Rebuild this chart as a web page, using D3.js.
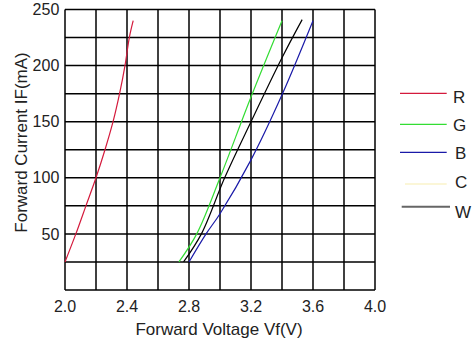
<!DOCTYPE html>
<html><head><meta charset="utf-8">
<script src="https://cdn.jsdelivr.net/npm/d3@7"></script>
<style>body{margin:0;background:#fff}svg{display:block}text{font-family:"Liberation Sans",Arial,sans-serif}</style>
</head><body><svg id="c" width="475" height="344"></svg>
<script>
const xTicks = [2.0, 2.4, 2.8, 3.2, 3.6, 4.0];
const yTicks = [50, 100, 150, 200, 250];
const seriesNames = ["R", "G", "B", "C", "W"];
const seriesColors = ["#d41a3c", "#33dd33", "#1a1aa8", "#f5eaa0", "#000000"];
const legendColors = ["#d41a3c", "#33dd33", "#1a1aa8", "#f8eeb0", "#666666"];
const redV = [2.0, 2.07, 2.135, 2.2, 2.258, 2.31, 2.352, 2.387, 2.415, 2.44];
const redI = [25, 50, 75, 100, 125, 150, 175, 200, 225, 240];
const greenV = [2.735, 2.85, 3.0, 3.2, 3.40];
const greenI = [25, 50, 100, 172, 240];
const blueV = [2.80, 2.91, 3.0, 3.2, 3.4, 3.6];
const blueI = [25, 50, 68, 116, 174, 240];
const whiteV = [2.765, 2.88, 3.03, 3.2, 3.4, 3.53];
const whiteI = [25, 50, 100, 150, 207, 241];

const svg = d3.select("#c");
const x = d3.scaleLinear().domain([2.0, 4.0]).range([65, 375]);
const y = d3.scaleLinear().domain([0, 250]).range([290, 9.5]);

const grid = svg.append("g");
grid.selectAll(".vx").data(d3.range(0, 11).map(i => 2.0 + i * 0.2)).enter().append("line")
  .attr("x1", d => x(d)).attr("x2", d => x(d)).attr("y1", y(0)).attr("y2", y(250))
  .attr("stroke", "#000").attr("stroke-width", 1.5);
grid.selectAll(".hy").data(d3.range(0, 11).map(i => i * 25)).enter().append("line")
  .attr("y1", d => y(d)).attr("y2", d => y(d)).attr("x1", x(2.0)).attr("x2", x(4.0))
  .attr("stroke", "#000").attr("stroke-width", 1.5);

svg.selectAll(".xt").data(xTicks).enter().append("text")
  .attr("x", d => x(d)).attr("y", 311.7).attr("text-anchor", "middle")
  .attr("font-size", 16).attr("fill", "#222").text(d => d.toFixed(1));
svg.selectAll(".yt").data(yTicks).enter().append("text")
  .attr("x", 59.3).attr("y", d => y(d)).attr("dy", "0.35em").attr("text-anchor", "end")
  .attr("font-size", 16).attr("fill", "#222").text(d => d);

svg.append("text").attr("x", 219).attr("y", 335).attr("text-anchor", "middle")
  .attr("font-size", 17).attr("fill", "#222").text("Forward Voltage Vf(V)");
svg.append("text").attr("transform", "translate(26.5,142.5) rotate(-90)").attr("text-anchor", "middle")
  .attr("font-size", 17).attr("fill", "#222").text("Forward Current IF(mA)");

const line = d3.line().x(d => x(d[0])).y(d => y(d[1])).curve(d3.curveCatmullRom.alpha(0.5));
const curves = [
  [redV, redI, 0], [greenV, greenI, 1], [blueV, blueI, 2], [whiteV, whiteI, 4]
];
curves.forEach(([V, I, k]) => {
  svg.append("path").datum(V.map((v, i) => [v, I[i]])).attr("d", line)
    .attr("fill", "none").attr("stroke", seriesColors[k]).attr("stroke-width", 1.2);
});

const legY = [93.3, 124.3, 152.3, 184, 206.7];
const legX1 = [400, 400, 400, 405, 401.7];
const legX2 = [446.7, 446.7, 446.7, 446.7, 450];
const legTX = [453, 453, 455, 455, 455];
const legTY = [96.7, 125, 153.3, 181.7, 211.7];
seriesNames.forEach((n, i) => {
  svg.append("line").attr("x1", legX1[i]).attr("x2", legX2[i]).attr("y1", legY[i]).attr("y2", legY[i])
    .attr("stroke", legendColors[i]).attr("stroke-width", i === 4 ? 2 : 1.2);
  svg.append("text").attr("x", legTX[i]).attr("y", legTY[i]).attr("dy", "0.35em")
    .attr("font-size", 17).attr("fill", "#222").text(n);
});
</script></body></html>
